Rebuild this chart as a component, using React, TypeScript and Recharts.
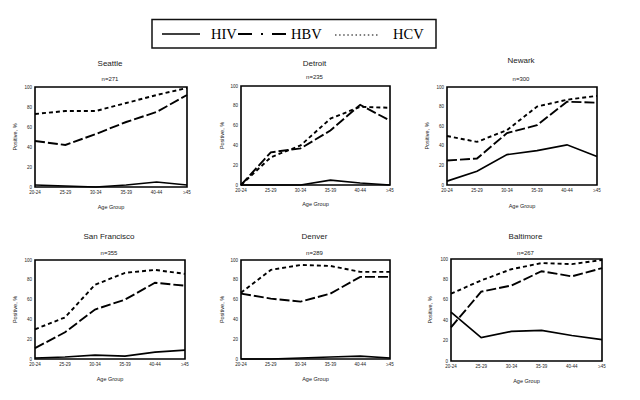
import { LineChart, Line, XAxis, YAxis, ReferenceArea } from 'recharts';

const ageGroups = ['20-24', '25-29', '30-34', '35-39', '40-44', '≥45'];
const yTicks = [0, 20, 40, 60, 80, 100];

const seattleHIV = [2, 1, 0, 2, 5, 2];
const seattleHBV = [46, 42, 53, 65, 75, 92];
const seattleHCV = [73, 76, 76, 84, 92, 99];

const detroitHIV = [0, 0, 0, 5, 2, 0];
const detroitHBV = [0, 33, 37, 55, 81, 65];
const detroitHCV = [0, 28, 40, 67, 79, 78];

const newarkHIV = [4, 14, 31, 35, 41, 29];
const newarkHBV = [25, 27, 53, 61, 85, 84];
const newarkHCV = [50, 44, 56, 80, 87, 91];

const sanFranciscoHIV = [1, 2, 4, 3, 7, 9];
const sanFranciscoHBV = [11, 27, 50, 60, 77, 74];
const sanFranciscoHCV = [30, 42, 75, 87, 90, 86];

const denverHIV = [0, 0, 1, 2, 3, 1];
const denverHBV = [66, 61, 58, 66, 83, 83];
const denverHCV = [67, 90, 95, 94, 88, 88];

const baltimoreHIV = [48, 23, 29, 30, 25, 21];
const baltimoreHBV = [33, 68, 74, 88, 83, 91];
const baltimoreHCV = [66, 79, 90, 96, 95, 99];

const sans = '"Liberation Sans", Arial, sans-serif';
const serif = '"Liberation Serif", "Times New Roman", serif';

type Panel = {
    city: string;
    n: string;
    hiv: number[];
    hbv: number[];
    hcv: number[];
    box: { x: number; y: number; w: number; h: number };
    titleY: number;
    nY: number;
    ageY: number;
    yLabelX: number;
};

const panels: Panel[] = [
    { city: 'Seattle', n: 'n=271', hiv: seattleHIV, hbv: seattleHBV, hcv: seattleHCV,
        box: { x: 35, y: 87, w: 152, h: 100 }, titleY: 63, nY: 79, ageY: 207, yLabelX: 15 },
    { city: 'Detroit', n: 'n=235', hiv: detroitHIV, hbv: detroitHBV, hcv: detroitHCV,
        box: { x: 241, y: 86, w: 149, h: 99 }, titleY: 63, nY: 77, ageY: 204, yLabelX: 222 },
    { city: 'Newark', n: 'n=300', hiv: newarkHIV, hbv: newarkHBV, hcv: newarkHCV,
        box: { x: 447, y: 87, w: 150, h: 98 }, titleY: 60, nY: 79, ageY: 206, yLabelX: 427 },
    { city: 'San Francisco', n: 'n=355', hiv: sanFranciscoHIV, hbv: sanFranciscoHBV, hcv: sanFranciscoHCV,
        box: { x: 35, y: 260, w: 150, h: 99 }, titleY: 236, nY: 253, ageY: 379, yLabelX: 15 },
    { city: 'Denver', n: 'n=289', hiv: denverHIV, hbv: denverHBV, hcv: denverHCV,
        box: { x: 241, y: 260, w: 149, h: 99 }, titleY: 236, nY: 253, ageY: 379, yLabelX: 222 },
    { city: 'Baltimore', n: 'n=267', hiv: baltimoreHIV, hbv: baltimoreHBV, hcv: baltimoreHCV,
        box: { x: 451, y: 259, w: 151, h: 102 }, titleY: 236, nY: 253, ageY: 381, yLabelX: 430 },
];

function CityChart({ p }: { p: Panel }) {
    const data = ageGroups.map((age, i) => ({ age, HIV: p.hiv[i], HBV: p.hbv[i], HCV: p.hcv[i] }));
    const tick = { fontSize: 4.5, fill: '#222', fontFamily: sans };
    return (
        <div style={{ position: 'absolute', left: p.box.x - 30, top: p.box.y - 10 }}>
            <LineChart
                width={p.box.w + 40}
                height={p.box.h + 30}
                data={data}
                margin={{ top: 10, right: 10, bottom: 8, left: 18 }}
            >
                <XAxis dataKey="age" height={12} interval={0} axisLine={false} tickLine={false}
                    tickSize={3.5} tickMargin={0} tick={tick} />
                <YAxis domain={[0, 100]} ticks={yTicks} width={12} axisLine={false} tickLine={false}
                    tickSize={3} tickMargin={0} tick={tick} />
                <Line type="linear" dataKey="HIV" stroke="#000" strokeWidth={1.7} dot={false} isAnimationActive={false} />
                <Line type="linear" dataKey="HBV" stroke="#000" strokeWidth={1.9} strokeDasharray="10 3"
                    dot={false} isAnimationActive={false} />
                <Line type="linear" dataKey="HCV" stroke="#000" strokeWidth={1.9} strokeDasharray="4 3"
                    dot={false} isAnimationActive={false} />
                <ReferenceArea x1={ageGroups[0]} x2={ageGroups[ageGroups.length - 1]} y1={0} y2={100}
                    fill="none" fillOpacity={0} stroke="#000" strokeWidth={1.6} />
            </LineChart>
        </div>
    );
}

function Labels() {
    return (
        <svg width={640} height={400} style={{ position: 'absolute', left: 0, top: 0, pointerEvents: 'none' }}>
            {/* legend */}
            <rect x={152} y={19.5} width={284} height={28.5} fill="none" stroke="#111" strokeWidth={1.5} />
            <line x1={162} y1={34} x2={200} y2={34} stroke="#000" strokeWidth={1.6} />
            <text x={211} y={38.5} fontFamily={serif} fontSize={14.5} fill="#000">HIV</text>
            <line x1={238} y1={34} x2={287} y2={34} stroke="#000" strokeWidth={2} strokeDasharray="14 9 2 9 14" />
            <text x={291} y={38.5} fontFamily={serif} fontSize={14.5} fill="#000">HBV</text>
            <line x1={335} y1={35} x2={378} y2={35} stroke="#000" strokeWidth={1.2} strokeDasharray="1.5 2.6" />
            <text x={393} y={38.5} fontFamily={serif} fontSize={14.5} fill="#000">HCV</text>

            {panels.map((p) => {
                const cx = p.box.x + p.box.w / 2;
                const cy = p.box.y + p.box.h / 2;
                return (
                    <g key={p.city} fontFamily={sans} fill="#222">
                        <text x={cx - 1} y={p.titleY} fontSize={8} textAnchor="middle" dominantBaseline="central">{p.city}</text>
                        <text x={cx - 1} y={p.nY} fontSize={6} textAnchor="middle" dominantBaseline="central">{p.n}</text>
                        <text x={cx} y={p.ageY} fontSize={5.5} textAnchor="middle" dominantBaseline="central">Age Group</text>
                        <text x={p.yLabelX} y={cy} fontSize={5.5} textAnchor="middle" dominantBaseline="central"
                            transform={`rotate(-90 ${p.yLabelX} ${cy})`}>Positive, %</text>
                    </g>
                );
            })}
        </svg>
    );
}

export default function App() {
    return (
        <div style={{ position: 'absolute', left: 0, top: 0, width: 640, height: 400, background: '#fff' }}>
            {panels.map((p) => (
                <CityChart key={p.city} p={p} />
            ))}
            <Labels />
        </div>
    );
}
